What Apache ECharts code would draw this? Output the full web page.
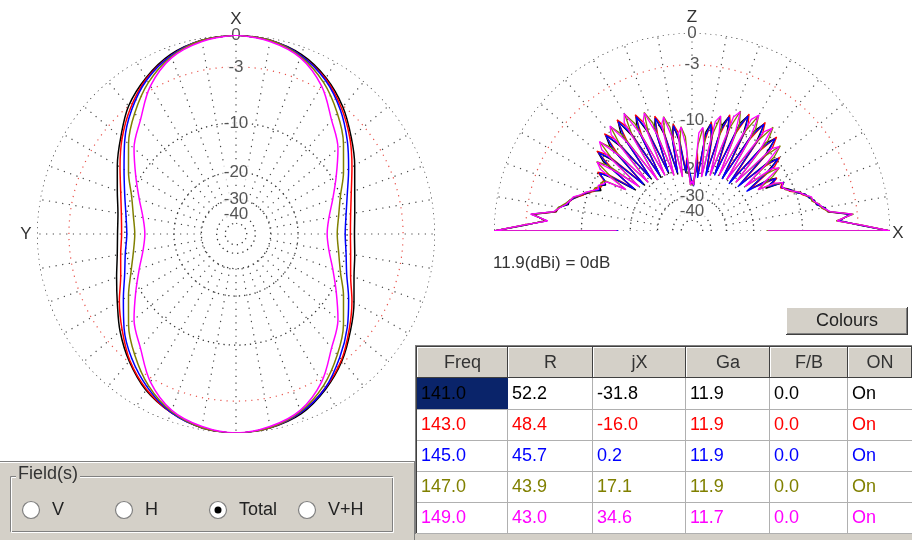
<!DOCTYPE html>
<html>
<head>
<meta charset="utf-8">
<script src="https://cdn.jsdelivr.net/npm/echarts@6/dist/echarts.min.js"></script>
<style>
  html, body { margin: 0; padding: 0; background: #fff; }
  #chart { width: 912px; height: 540px; }
</style>
</head>
<body>
<div id="chart"></div>
<script>
const FONT = '"Liberation Sans", Arial, sans-serif';

// Five sweep frequencies, one colour each
const seriesNames = ['141.0', '143.0', '145.0', '147.0', '149.0'];
const seriesColors = ['#000000', '#ff0000', '#0000ff', '#808000', '#ff00ff'];

// Horizontal-plane pattern (dB relative to 11.9 dBi), every 10 degrees from X, clockwise
const azAngles = [0,10,20,30,40,50,60,70,80,90,100,110,120,130,140,150,160,170,
                  180,190,200,210,220,230,240,250,260,270,280,290,300,310,320,330,340,350];
const az141 = [0,-0.2,-0.7,-1.7,-3.1,-4.8,-6.4,-7.8,-8.6,-8.9,-8.6,-7.9,-6.5,-4.9,-3.2,-1.8,-0.7,-0.2,
               0,-0.2,-0.8,-1.7,-3.1,-4.7,-6.4,-7.7,-8.6,-8.9,-8.7,-7.8,-6.4,-4.8,-3.0,-1.7,-0.7,-0.2];
const az143 = [0,-0.2,-0.8,-1.8,-3.3,-5.0,-6.8,-8.3,-9.2,-9.5,-9.2,-8.4,-6.8,-5.1,-3.3,-1.9,-0.8,-0.2,
               0,-0.2,-0.8,-1.8,-3.2,-5.0,-6.7,-8.3,-9.1,-9.5,-9.2,-8.3,-6.8,-5.0,-3.3,-1.8,-0.8,-0.2];
const az145 = [0,-0.2,-0.8,-1.9,-3.5,-5.4,-7.3,-8.9,-9.9,-10.3,-9.9,-9.0,-7.3,-5.4,-3.6,-1.9,-0.8,-0.2,
               0,-0.2,-0.8,-2.0,-3.5,-5.3,-7.3,-8.9,-9.8,-10.3,-9.9,-8.9,-7.4,-5.4,-3.5,-1.9,-0.8,-0.2];
const az147 = [0,-0.2,-0.9,-2.2,-4.0,-6.0,-8.1,-10.0,-11.1,-11.6,-11.1,-10.0,-8.1,-6.0,-4.0,-2.2,-0.9,-0.2,
               0,-0.2,-0.9,-2.2,-4.0,-6.0,-8.1,-9.9,-11.1,-11.6,-11.1,-10.0,-8.1,-6.0,-4.0,-2.2,-0.9,-0.2];
const az149 = [0,-0.3,-1.0,-2.6,-5.0,-6.9,-9.3,-11.3,-12.8,-13.4,-12.8,-11.3,-9.3,-6.9,-5.0,-2.6,-1.0,-0.3,
               0,-0.3,-1.0,-2.6,-5.0,-6.9,-9.3,-11.3,-12.8,-13.4,-12.8,-11.3,-9.3,-6.9,-5.0,-2.6,-1.0,-0.3];

// Vertical-plane pattern (dB), elevation from +X (0) over Z (90) to -X (180), 2 degree steps
const elAngles = Array.from({ length: 91 }, (_, i) => i * 2);
const el141 = [
  0,-2.9,-5.0,-3.8,-6.3,-6.6,-7.6,-7.7,-8.4,-8.7,-9.8,-10.3,-11.0,-11.9,-11.0,
  -14.5,-11.8,-13.3,-18,-12.6,-9.6,-11.1,-19,-10.9,-7.9,-9.4,-20,-10.3,-7.3,-8.8,-20,-10.4,-7.4,-8.9,-20,
  -11.5,-8.5,-10.0,-21,-13.2,-10.2,-11.7,-22,-17,-25,
  -25,-24,-18,-21,-13.5,-10.5,-12.0,-21,-11.7,-8.7,-10.2,-20,-10.5,-7.5,-9.0,-20,-9.9,-6.9,-8.4,-19,
  -10.3,-7.3,-8.8,-19,-11.2,-8.2,-9.7,-18,-13.1,-10.1,-11.6,
  -12.1,-11.2,-11.8,-10.6,-10.0,-9.2,-8.5,-7.7,-7.7,-6.5,-6.3,-3.7,-5.1,-3.0,0];
const el143 = [
  0,-2.7,-5.2,-3.6,-6.2,-6.9,-7.4,-8.0,-8.2,-9.1,-9.6,-10.8,-11.1,-12.0,-11.4,
  -13.2,-11.7,-15.2,-17,-10.9,-9.4,-12.9,-18,-9.2,-7.7,-11.2,-19,-8.6,-7.1,-10.6,-19,-8.7,-7.2,-10.7,-19,
  -9.8,-8.3,-11.8,-20,-11.5,-10.0,-13.5,-21,-16,-24,
  -24,-23,-17,-20,-11.8,-10.3,-13.8,-20,-10.0,-8.5,-12.0,-19,-8.8,-7.3,-10.8,-19,-8.2,-6.7,-10.2,-18,
  -8.6,-7.1,-10.6,-18,-9.5,-8.0,-11.5,-17,-11.4,-9.9,-11.4,
  -11.4,-11.6,-10.9,-10.8,-9.8,-9.3,-8.3,-7.9,-7.3,-6.6,-6.2,-3.6,-5.2,-2.8,0];
const el145 = [
  0,-2.8,-5.1,-3.7,-6.1,-6.7,-7.5,-7.8,-8.3,-8.8,-9.7,-10.4,-11.2,-11.8,-11.1,
  -13.9,-11.9,-14.1,-18.5,-11.9,-9.7,-11.9,-19.5,-10.2,-8.0,-10.2,-20.5,-9.6,-7.4,-9.6,-20.5,-9.7,-7.5,-9.7,-20.5,
  -10.8,-8.6,-10.8,-21.5,-12.5,-10.3,-12.5,-22.5,-17.5,-25.5,
  -24,-24.5,-17.5,-20.5,-12.8,-10.6,-12.8,-20.5,-11.0,-8.8,-11.0,-19.5,-9.8,-7.6,-9.8,-19.5,-9.2,-7.0,-9.2,-18.5,
  -9.6,-7.4,-9.6,-18.5,-10.5,-8.3,-10.5,-17.5,-12.4,-10.2,-11.6,
  -11.9,-11.1,-11.5,-10.5,-9.8,-9.1,-8.3,-7.8,-7.5,-6.6,-6.1,-3.5,-5.3,-2.8,0];
const el147 = [
  0,-2.6,-5.4,-3.4,-6.1,-7.0,-7.2,-8.1,-8.1,-9.0,-9.4,-10.6,-11.4,-11.6,-11.3,
  -12.8,-16,-12.2,-10.4,-13.4,-18,-10.0,-8.2,-11.2,-19,-8.8,-7.0,-10.0,-20,-8.6,-6.8,-9.8,-20,-9.1,-7.3,
  -10.3,-21,-10.7,-8.9,-11.9,-22,-13.0,-11.2,-14.2,-25,
  -25,-25,-12.7,-10.9,-13.9,-22,-10.7,-8.9,-11.9,-21,-9.3,-7.5,-10.5,-20,-8.4,-6.6,-9.6,-20,-8.7,-6.9,
  -9.9,-19,-9.3,-7.5,-10.5,-18,-10.7,-8.9,-11.9,-16,-11.8,
  -11.2,-11.4,-10.7,-10.6,-9.6,-9.1,-8.2,-7.7,-7.2,-6.5,-6.1,-3.5,-5.3,-2.7,0];
const el149 = [
  0,-2.6,-5.3,-3.5,-6.0,-6.8,-7.3,-7.9,-8.0,-8.9,-9.5,-10.5,-11.3,-11.7,-11.2,
  -12.5,-16,-14.0,-10.5,-11.5,-18,-11.9,-8.4,-9.4,-19,-10.7,-7.2,-8.2,-20,-10.2,-6.7,-7.7,-20,-10.9,-7.4,
  -8.4,-21,-12.3,-8.8,-9.8,-22,-14.5,-11.0,-12.0,-25,
  -23.6,-25,-14.5,-11.0,-12.0,-22,-12.5,-9.0,-10.0,-21,-11.1,-7.6,-8.6,-20,-10.0,-6.5,-7.5,-20,-10.3,-6.8,
  -7.8,-19,-10.9,-7.4,-8.4,-18,-12.5,-9.0,-10.0,-16,-12.0,
  -11.7,-11.0,-11.3,-10.4,-9.6,-9.0,-8.1,-7.8,-7.4,-6.7,-6.0,-3.4,-5.4,-2.7,0];
// level where each trace folds back along the horizon at +X and -X
const elFoldX = [-16.2, -16.5, -16.0, -16.8, -16.4];
const elFoldMinusX = [-16.8, -16.6, -17.0, -16.4, -16.6];

// Grid rings (dB) and their labels
const ringDb = [0, -3, -10, -20, -30, -40, -50];
const ringLabels = ['0', '-3', '-10', '-20', '-30', '-40', ''];
const spokeInnerDb = -30;

// Table contents
const headers = ['Freq', 'R', 'jX', 'Ga', 'F/B', 'ON'];
const freqVals = ['141.0', '143.0', '145.0', '147.0', '149.0'];
const rVals = ['52.2', '48.4', '45.7', '43.9', '43.0'];
const jxVals = ['-31.8', '-16.0', '0.2', '17.1', '34.6'];
const gaVals = ['11.9', '11.9', '11.9', '11.9', '11.7'];
const fbVals = ['0.0', '0.0', '0.0', '0.0', '0.0'];
const onVals = ['On', 'On', 'On', 'On', 'On'];
const fieldOptions = ['V', 'H', 'Total', 'V+H'];
const fieldSelected = 'Total';

// ARRL log-periodic radius: 0.89 per 2 dB
function arrl(db) { return Math.pow(0.89, -db / 2); }

const azSeries = [az141, az143, az145, az147, az149];
const elSeries = [el141, el143, el145, el147, el149];

const DOT = { color: '#333', width: 1.3, type: [1.3, 4] };

function ringSeries(polarIndex, from, to) {
  return ringDb.map((db) => {
    const pts = [];
    for (let a = from; a <= to; a += 2) pts.push([arrl(db), a]);
    return {
      type: 'line', coordinateSystem: 'polar', polarIndex, data: pts,
      symbol: 'none', silent: true, z: 1,
      lineStyle: db === -3 ? { color: '#e8524a', width: 1.2, type: [1.2, 5] } : DOT
    };
  });
}

// dotted spokes every 10 degrees, from the -30 dB ring to the rim
function spokeSeries(polarIndex, from, to) {
  const out = [];
  for (let a = from; a <= to; a += 10) {
    out.push({
      type: 'line', coordinateSystem: 'polar', polarIndex,
      data: [[arrl(spokeInnerDb), a], [1, a]],
      symbol: 'none', silent: true, z: 1,
      lineStyle: { color: '#444', width: 1.2, type: [1.2, 5.5] }
    });
  }
  return out;
}

function labelSeries(polarIndex, angle) {
  return {
    type: 'scatter', coordinateSystem: 'polar', polarIndex, silent: true, z: 2,
    symbolSize: 1, itemStyle: { color: 'rgba(0,0,0,0)' },
    data: ringDb.map((db, k) => [arrl(db), angle, ringLabels[k]]).filter(d => d[2] !== ''),
    label: {
      show: true, position: 'inside', formatter: p => p.data[2],
      color: '#2a2a2a', fontSize: 17, fontFamily: FONT,
      backgroundColor: '#fff', padding: [0, 1]
    },
    labelLayout: { hideOverlap: false }
  };
}

const series = [];
series.push(...ringSeries(0, 0, 360));
series.push(...ringSeries(1, 0, 180));
series.push(...spokeSeries(0, 0, 350));
series.push(...spokeSeries(1, 0, 180));
series.push(labelSeries(0, 0));
series.push(labelSeries(1, 90));

azSeries.forEach((vals, s) => {
  const pts = azAngles.map((a, i) => [arrl(vals[i]), a]);
  pts.push([arrl(vals[0]), 360]);
  series.push({
    type: 'line', name: seriesNames[s] + ' az', coordinateSystem: 'polar', polarIndex: 0,
    data: pts, symbol: 'none', smooth: 0.35, silent: true, z: 3,
    lineStyle: { color: seriesColors[s], width: 1.5 }
  });
});

elSeries.forEach((vals, s) => {
  const pts = [[arrl(elFoldX[s]), 0]].concat(
    elAngles.map((a, i) => [arrl(vals[i]), a]),
    [[arrl(elFoldMinusX[s]), 180]]);
  series.push({
    type: 'line', name: seriesNames[s] + ' el', coordinateSystem: 'polar', polarIndex: 1,
    data: pts, symbol: 'none', silent: true, z: 3,
    lineStyle: { color: seriesColors[s], width: 1.3 }
  });
});

// ---- window furniture: table, button, field selector ----
const G = [];
const GRAY = '#d4d0c8';
function line(x1, y1, x2, y2, stroke, w) {
  G.push({ type: 'line', silent: true, shape: { x1, y1, x2, y2 }, style: { stroke, lineWidth: w || 1 } });
}
function rect(x, y, w, h, fill, stroke) {
  G.push({ type: 'rect', silent: true, shape: { x, y, width: w, height: h },
    style: { fill: fill || 'none', stroke: stroke || 'none', lineWidth: 1 } });
}
function text(t, x, y, color, size, align, bg) {
  G.push({ type: 'text', silent: true, x, y,
    style: { text: t, fill: color, font: (size || 18) + 'px ' + FONT,
      textAlign: align || 'left', textVerticalAlign: 'middle',
      backgroundColor: bg || null, padding: bg ? [0, 2] : 0 } });
}

// axis letters
text('X', 236, 19, '#333', 17, 'center');
text('Y', 26, 234, '#333', 17, 'center');
text('Z', 692, 17, '#333', 17, 'center');
text('X', 898, 233, '#333', 17, 'center');
text('11.9(dBi) = 0dB', 493, 263, '#333', 17, 'left');

// bottom-left panel
rect(0, 462, 416, 78, GRAY);
rect(415, 533, 497, 7, GRAY);
line(0, 461.5, 415, 461.5, '#808080');
line(0, 462.5, 415, 462.5, '#fff');
line(414.5, 462, 414.5, 540, '#808080');

// table
const colX = [417, 508, 593, 686, 770, 848, 912];
const rowY = [378, 409, 440, 471, 502, 533];
rect(417, 378, 495, 155, '#fff');
rect(417, 347, 495, 31, GRAY);
line(415.5, 345, 415.5, 534, '#808080');
line(415.5, 345.5, 912, 345.5, '#808080');
line(416.5, 346, 416.5, 533, '#404040');
line(416.5, 346.5, 912, 346.5, '#404040');
for (let c = 0; c < 6; c++) {
  const x0 = colX[c], x1 = colX[c + 1];
  line(x0 + 0.5, 347, x0 + 0.5, 377, '#fff');
  line(x0, 347.5, x1, 347.5, '#fff');
  line(x1 - 0.5, 347, x1 - 0.5, 378, '#404040');
  line(x0, 377.5, x1, 377.5, '#404040');
  text(headers[c], (x0 + x1) / 2, 363, '#333', 18, 'center');
}
for (let r = 1; r < rowY.length; r++) line(417, rowY[r] + 0.5, 912, rowY[r] + 0.5, '#b0b0b0');
for (let c = 1; c < 6; c++) line(colX[c] - 0.5, 378, colX[c] - 0.5, 533, '#b0b0b0');
rect(417, 378, 91, 31, '#0a246a');
const columns = [freqVals, rVals, jxVals, gaVals, fbVals, onVals];
for (let r = 0; r < 5; r++) {
  const cy = (rowY[r] + rowY[r + 1]) / 2 + 1;
  columns.forEach((col, c) => {
    const color = (r === 0 && c === 0) ? '#000' : seriesColors[r];
    text(col[r], colX[c] + 4, cy, color, 18, 'left');
  });
}

// Colours button
rect(786, 307, 122, 28, GRAY);
line(786, 307.5, 908, 307.5, '#fff');
line(786.5, 307, 786.5, 335, '#fff');
line(786, 334.5, 908, 334.5, '#404040');
line(907.5, 307, 907.5, 335, '#404040');
line(787, 333.5, 907, 333.5, '#808080');
line(906.5, 308, 906.5, 334, '#808080');
text('Colours', 847, 321, '#222', 18, 'center');

// Field(s) group box
G.push({ type: 'rect', silent: true, shape: { x: 10.5, y: 476.5, width: 382, height: 55 },
  style: { fill: 'none', stroke: '#808080', lineWidth: 1 } });
G.push({ type: 'rect', silent: true, shape: { x: 11.5, y: 477.5, width: 382, height: 55 },
  style: { fill: 'none', stroke: '#fff', lineWidth: 1 } });
text('Field(s)', 16, 474, '#333', 18, 'left', GRAY);
const radioX = [31, 124, 218, 307];
fieldOptions.forEach((opt, i) => {
  G.push({ type: 'circle', silent: true, shape: { cx: radioX[i], cy: 510, r: 8.5 },
    style: { fill: '#fff', stroke: '#808080', lineWidth: 1.2 } });
  if (opt === fieldSelected) {
    G.push({ type: 'circle', silent: true, shape: { cx: radioX[i], cy: 510, r: 3.5 }, style: { fill: '#000' } });
  }
  text(opt, radioX[i] + 21, 510, '#222', 18, 'left');
});

const hiddenAxis = { axisLine: { show: false }, axisTick: { show: false }, axisLabel: { show: false }, splitLine: { show: false } };

const option = {
  animation: false,
  backgroundColor: '#fff',
  polar: [
    { center: [236, 234], radius: 199 },
    { center: [692, 231], radius: 198 }
  ],
  angleAxis: [
    Object.assign({ polarIndex: 0, type: 'value', min: 0, max: 360, interval: 10, startAngle: 90, clockwise: true }, hiddenAxis),
    Object.assign({ polarIndex: 1, type: 'value', min: 0, max: 180, interval: 10, startAngle: 0, endAngle: 180, clockwise: false }, hiddenAxis)
  ],
  radiusAxis: [
    Object.assign({ polarIndex: 0, type: 'value', min: 0, max: 1 }, hiddenAxis),
    Object.assign({ polarIndex: 1, type: 'value', min: 0, max: 1 }, hiddenAxis)
  ],
  series,
  graphic: G
};

const chart = echarts.init(document.getElementById('chart'));
chart.setOption(option);
</script>
</body>
</html>
